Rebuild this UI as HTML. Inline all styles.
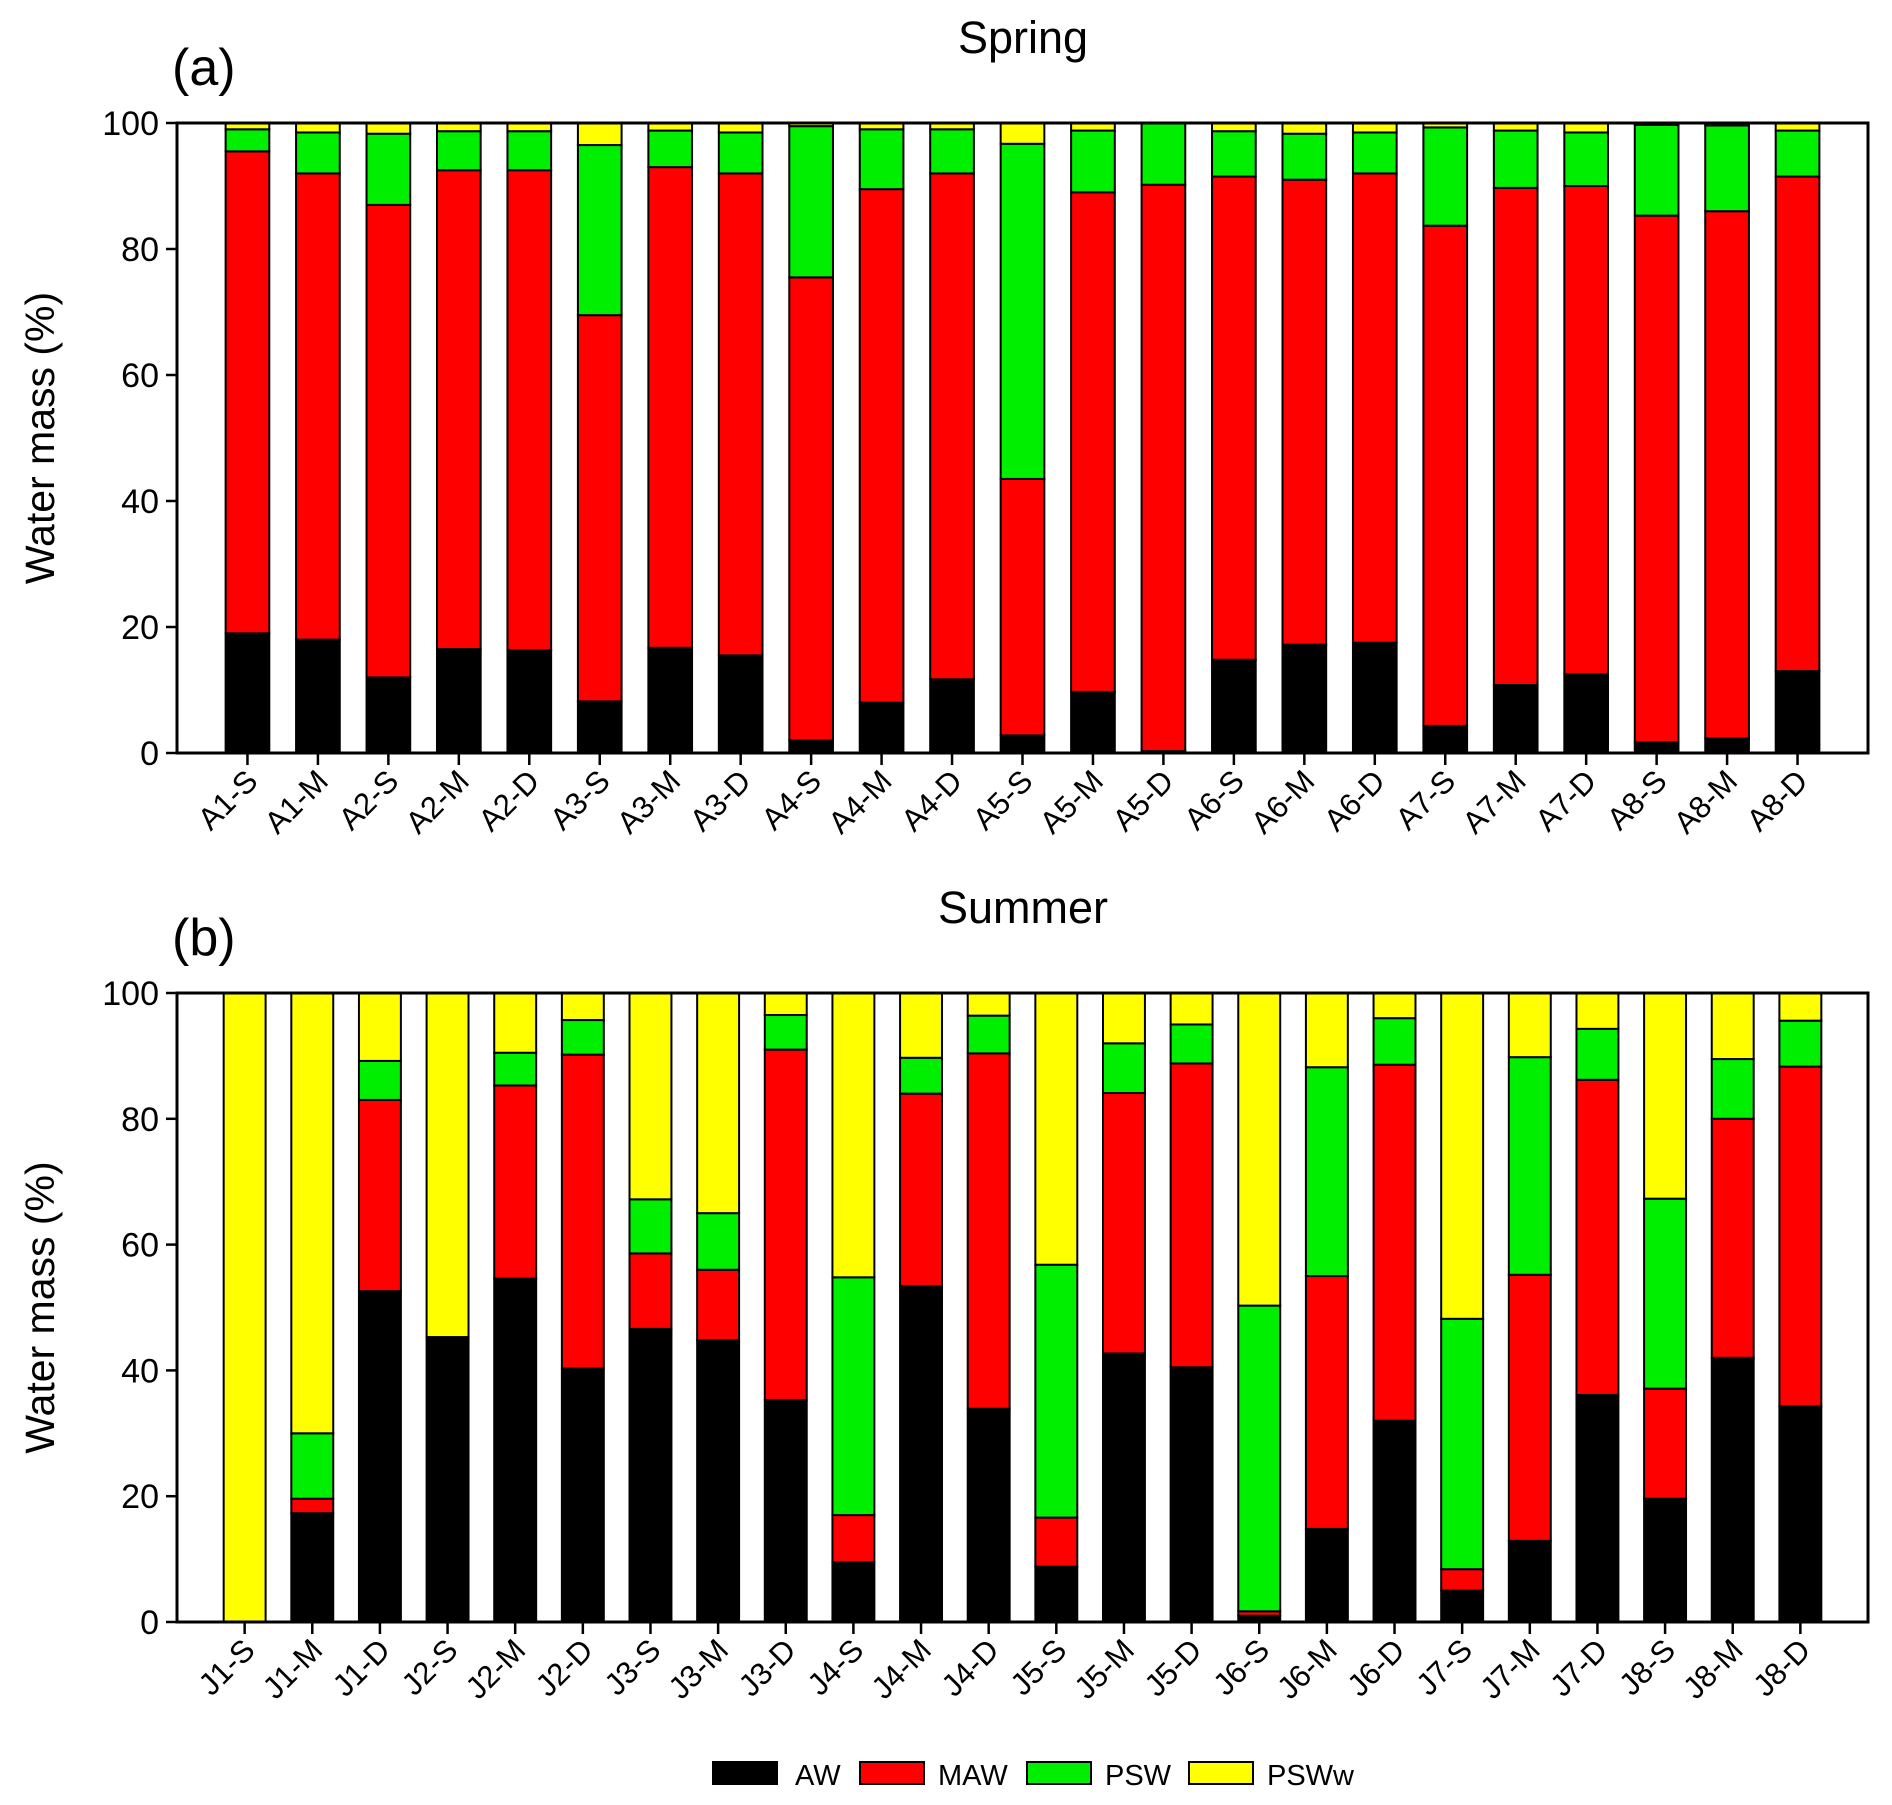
<!DOCTYPE html>
<html><head><meta charset="utf-8"><style>
html,body{margin:0;padding:0;background:#fff}
svg{display:block;font-family:"Liberation Sans",Arial,sans-serif}
</style></head><body>
<svg id="chart" width="1892" height="1805" viewBox="0 0 1892 1805" xmlns="http://www.w3.org/2000/svg"></svg>
<script>
const springCats=["A1-S","A1-M","A2-S","A2-M","A2-D","A3-S","A3-M","A3-D","A4-S","A4-M","A4-D","A5-S","A5-M","A5-D","A6-S","A6-M","A6-D","A7-S","A7-M","A7-D","A8-S","A8-M","A8-D"];
const springAW=[19,18,12,16.5,16.3,8.2,16.7,15.5,2,8,11.7,2.8,9.7,0.3,14.8,17.2,17.5,4.3,10.8,12.5,1.7,2.3,13];
const springMAW=[76.5,74,75,76,76.2,61.3,76.3,76.5,73.5,81.5,80.3,40.7,79.3,89.9,76.7,73.8,74.5,79.4,78.9,77.5,83.6,83.7,78.5];
const springPSW=[3.5,6.5,11.3,6.2,6.2,27,5.8,6.5,24,9.5,7,53.2,9.8,9.8,7.2,7.3,6.5,15.6,9.1,8.5,14.4,13.6,7.3];
const springPSWw=[1,1.5,1.7,1.3,1.3,3.5,1.2,1.5,0.5,1,1,3.3,1.2,0,1.3,1.7,1.5,0.7,1.2,1.5,0.3,0.4,1.2];
const summerCats=["J1-S","J1-M","J1-D","J2-S","J2-M","J2-D","J3-S","J3-M","J3-D","J4-S","J4-M","J4-D","J5-S","J5-M","J5-D","J6-S","J6-M","J6-D","J7-S","J7-M","J7-D","J8-S","J8-M","J8-D"];
const summerAW=[0,17.3,52.6,45.3,54.6,40.3,46.6,44.8,35.3,9.5,53.4,33.9,8.8,42.7,40.5,1,14.8,32,5,12.9,36.1,19.6,42,34.3];
const summerMAW=[0,2.3,30.4,0,30.7,49.9,12,11.2,55.7,7.5,30.6,56.5,7.8,41.4,48.3,0.7,40.2,56.6,3.4,42.3,50.1,17.5,38,54];
const summerPSW=[0,10.4,6.2,0,5.2,5.5,8.6,9,5.5,37.8,5.7,6,40.2,7.9,6.2,48.6,33.2,7.4,39.8,34.6,8.1,30.2,9.5,7.3];
const summerPSWw=[100,70,10.8,54.7,9.5,4.3,32.8,35,3.5,45.2,10.3,3.6,43.2,8,5,49.7,11.8,4,51.8,10.2,5.7,32.7,10.5,4.4];
const yTicks=[0,20,40,60,80,100];
const seriesNames=["AW","MAW","PSW","PSWw"];
const seriesColors=["#000000","#ff0000","#00ee00","#ffff00"];

const NS="http://www.w3.org/2000/svg";
const svg=document.getElementById('chart');
function mk(tag,attrs,parent){const e=document.createElementNS(NS,tag);for(const k in attrs)e.setAttribute(k,attrs[k]);(parent||svg).appendChild(e);return e;}

function panel(key,title,letter,cats,series,top,bottom){
  const L=177,R=1868;
  const g=mk('g',{});
  
  
  const n=cats.length;
  const slot=(R-L)/(n+1);
  const x=i=>L+slot*(i+1);
  const y=v=>bottom-(v/100)*(bottom-top);
  const bw=slot*0.62;
  const t=mk('text',{x:1023,y:top-70,'text-anchor':'middle','font-size':45},g);
  t.textContent=title;
  
  
  const lt=mk('text',{x:172,y:top-38,'font-size':52},g);
  lt.textContent=letter;
  
  
  const yt=mk('text',{x:0,y:0,'text-anchor':'middle','font-size':41,transform:`translate(54,${(top+bottom)/2}) rotate(-90)`},g);
  yt.textContent="Water mass (%)";
  
  
  yTicks.forEach(v=>{
    mk('line',{x1:L-11,x2:L,y1:y(v),y2:y(v),stroke:'#000','stroke-width':2.5},g);
    const tl=mk('text',{x:L-18,y:y(v)+12,'text-anchor':'end','font-size':34},g);
    tl.textContent=v;
    
    
  });
  cats.forEach((c,i)=>{
    let base=0;
    series.forEach((s,k)=>{
      const v=s[i];
      if(v>0){
        const r=mk('rect',{x:x(i)-bw/2,y:y(base+v),width:bw,height:y(base)-y(base+v),fill:seriesColors[k],stroke:'#000','stroke-width':2},g);
        
        
      }
      base+=v;
    });
    mk('line',{x1:x(i),x2:x(i),y1:bottom,y2:bottom+12,stroke:'#000','stroke-width':2.5},g);
    const xl=mk('text',{x:0,y:0,'text-anchor':'end','font-size':31,transform:`translate(${x(i)+12},${bottom+30}) rotate(-45)`},g);
    xl.textContent=c;
    
    
  });
  const fr=mk('rect',{x:L,y:top,width:R-L,height:bottom-top,fill:'none',stroke:'#000','stroke-width':3},g);
  
  
}
panel('spring','Spring','(a)',springCats,[springAW,springMAW,springPSW,springPSWw],123,753);
panel('summer','Summer','(b)',summerCats,[summerAW,summerMAW,summerPSW,summerPSWw],993,1622);

const lg=mk('g',{});


const boxX=[713,860,1027,1189], txtX=[795,938,1105,1267];
seriesNames.forEach((nm,k)=>{
  const b=mk('rect',{x:boxX[k],y:1762,width:64,height:22,fill:seriesColors[k],stroke:'#000','stroke-width':2},lg);
  
  
  const t=mk('text',{x:txtX[k],y:1785,'font-size':29},lg);
  t.textContent=nm;
  
  
});
</script>
</body></html>
